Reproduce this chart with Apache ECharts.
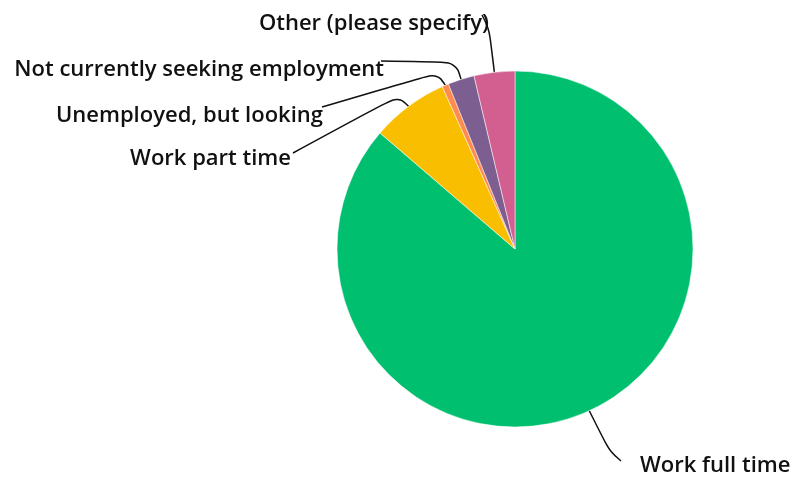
<!DOCTYPE html>
<html>
<head>
<meta charset="utf-8">
<script src="https://cdn.jsdelivr.net/npm/echarts@6/dist/echarts.min.js"></script>
<style>
    html, body { margin: 0; padding: 0; background: #fff; }
    #chart { width: 793px; height: 477px; }
</style>
</head>
<body>
<div id="chart"></div>
<script>
// answers, clockwise from 12 o'clock
const categories = [
    'Work full time',
    'Work part time',
    'Unemployed, but looking',
    'Not currently seeking employment',
    'Other (please specify)',
]
const values = [86.3, 7.0, 0.6, 2.4, 3.7]
const colors = ['#00BF6F', '#F9BE00', '#FF8B4F', '#7D5E90', '#D25F90']

// where each label sits and how its leader line bends
const labelSpots = [
    { x: 640, y: 466, align: 'left', knee: [610, 452], end: [621, 461] },
    { x: 291, y: 159, align: 'right', knee: [398, 96], end: [293, 153] },
    { x: 323, y: 116, align: 'right', knee: [437, 73], end: [322, 107] },
    { x: 384, y: 70, align: 'right', knee: [456, 62], end: [381, 61] },
    { x: 489, y: 24, align: 'right', knee: [489, 28], end: [482, 15] },
]

const chart = echarts.init(document.getElementById('chart'), null, { renderer: 'canvas' })

const option = {
    animation: false,
    color: colors,
    series: [
        {
            type: 'pie',
            center: [515, 249],
            radius: [0, 178],
            startAngle: 90,
            clockwise: true,
            avoidLabelOverlap: false,
            itemStyle: {
                borderColor: '#fff',
                borderWidth: 0.5,
            },
            label: {
                show: true,
                position: 'outside',
                color: '#111',
                fontFamily: 'Open Sans',
                fontWeight: 600,
                fontSize: 22,
            },
            labelLine: {
                show: true,
                smooth: 0.4,
                lineStyle: {
                    color: '#111',
                    width: 1.5,
                },
            },
            labelLayout: function (params) {
                const spot = labelSpots[params.dataIndex]
                const start = params.labelLinePoints[0]
                return {
                    x: spot.x,
                    y: spot.y,
                    align: spot.align,
                    verticalAlign: 'middle',
                    labelLinePoints: [start, spot.knee, spot.end],
                }
            },
            data: categories.map((name, i) => ({ name, value: values[i] })),
        },
    ],
}
chart.setOption(option)
</script>
</body>
</html>
